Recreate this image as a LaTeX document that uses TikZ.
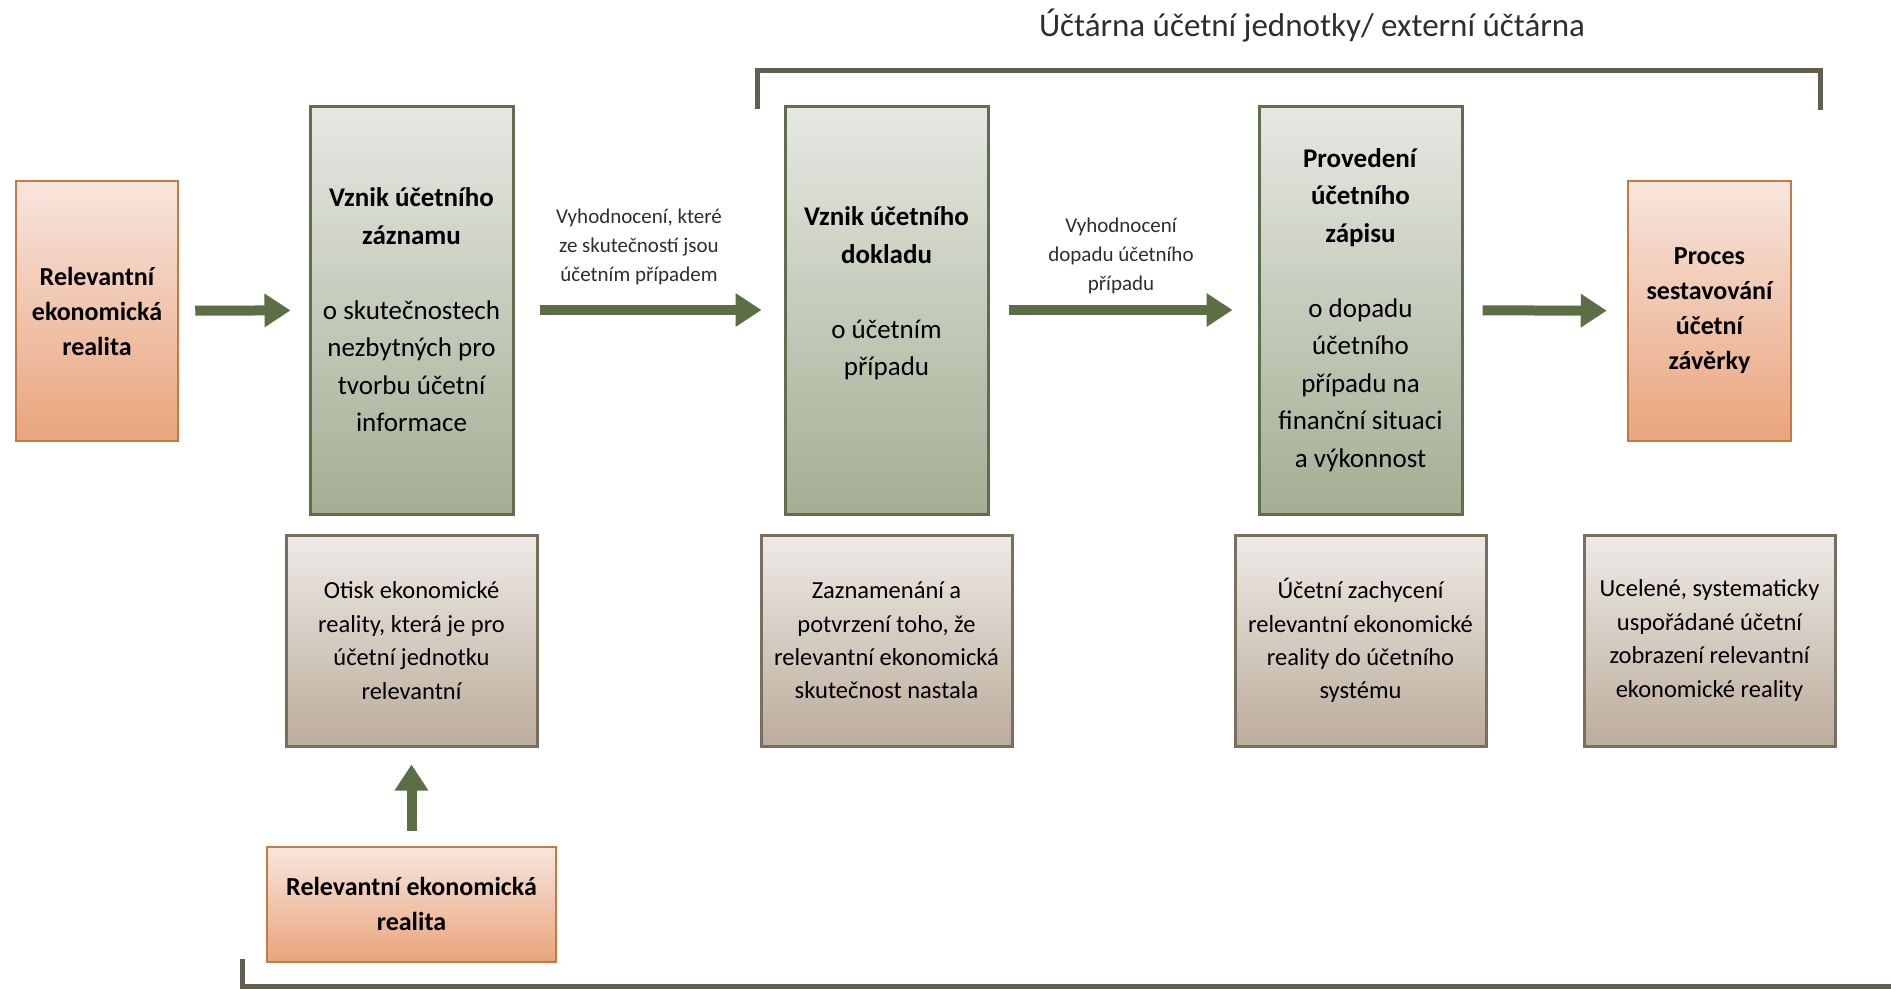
\documentclass[tikz,border=0pt]{standalone}
\usepackage{fontspec}
\setmainfont{Carlito}
\usetikzlibrary{arrows.meta,positioning}

\definecolor{orangeline}{HTML}{C27B47}
\definecolor{orangetop}{HTML}{F7E6DE}
\definecolor{orangebot}{HTML}{E9A47C}
\definecolor{greenline}{HTML}{5E6E4E}
\definecolor{greentop}{HTML}{E6E8E2}
\definecolor{greenbot}{HTML}{A3AE93}
\definecolor{noteline}{HTML}{7A6F5E}
\definecolor{notetop}{HTML}{EDEAE6}
\definecolor{notebot}{HTML}{BCAC9B}
\definecolor{arrowgreen}{HTML}{5C6E43}
\definecolor{bracketgray}{HTML}{625F50}
\definecolor{labelgray}{HTML}{2E2E2E}

\newcommand{\hd}[1]{\textbf{#1}}

\tikzset{
  realbox/.style={draw=orangeline, line width=2.5pt, top color=orangetop, bottom color=orangebot,
    minimum width=162pt, minimum height=260pt, align=center, inner sep=0pt,
    font=\bfseries\fontsize{26}{35}\selectfont},
  stepbox/.style={draw=greenline, line width=3pt, top color=greentop, bottom color=greenbot,
    minimum width=203pt, minimum height=408pt, align=center, inner sep=0pt,
    font=\fontsize{27}{37.5}\selectfont},
  notebox/.style={draw=noteline, line width=3pt, top color=notetop, bottom color=notebot,
    minimum width=251pt, minimum height=211pt, align=center, inner sep=0pt,
    font=\fontsize{24.5}{33.4}\selectfont},
  flow/.style={draw=arrowgreen, line width=10pt, -{Triangle[width=32pt,length=26pt]},
    shorten <=16pt, shorten >=18pt},
  flowlabel/.style={align=center, text=labelgray, font=\fontsize{21}{29}\selectfont},
  bracket/.style={draw=bracketgray, line width=5pt}
}

\begin{document}
\begin{tikzpicture}[x=1pt,y=-1pt]
\path[fill=white] (0,0) rectangle (1891,990);
\useasboundingbox (0,0) rectangle (1891,990);

\node[text=labelgray, font=\fontsize{33}{38}\selectfont] (title) at (1312,26)
  {Účtárna účetní jednotky/ externí účtárna};

\node[realbox] (real) at (97,311) {Relevantní\\ekonomická\\realita};
\node[stepbox] (zaznam) at (411.5,310)
  {\hd{Vznik účetního}\\\hd{záznamu}\\[37.5pt]o skutečnostech\\nezbytných pro\\tvorbu účetní\\informace};
\node[stepbox] (doklad) at (886.5,310)
  {\hd{Vznik účetního}\\\hd{dokladu}\\[37.5pt]o účetním\\případu\\\mbox{}};
\node[stepbox] (zapis) at (1360.5,310)
  {\hd{Provedení}\\\hd{účetního}\\\hd{zápisu}\\[37.5pt]o dopadu\\účetního\\případu na\\finanční situaci\\a výkonnost};
\node[realbox, minimum width=163pt] (zaverka) at (1709.5,311)
  {Proces\\sestavování\\účetní\\závěrky};

\node[notebox, below=18pt of zaznam] (otisk)
  {Otisk ekonomické\\reality, která je pro\\účetní jednotku\\relevantní};
\node[notebox, below=18pt of doklad] (potvrzeni)
  {Zaznamenání a\\potvrzení toho, že\\relevantní ekonomická\\skutečnost nastala};
\node[notebox, below=18pt of zapis] (zachyceni)
  {Účetní zachycení\\relevantní ekonomické\\reality do účetního\\systému};
\node[notebox] (zobrazeni) at (zaverka |- otisk)
  {Ucelené, systematicky\\uspořádané účetní\\zobrazení relevantní\\ekonomické reality};

\node[realbox, minimum width=289pt, minimum height=115pt, below=98pt of otisk] (realdole)
  {Relevantní ekonomická\\realita};

\draw[flow] (real) -- (zaznam);
\draw[flow, shorten <=25pt, shorten >=22pt] (zaznam) -- (doklad);
\draw[flow, shorten <=19pt, shorten >=25pt] (doklad) -- (zapis);
\draw[flow, shorten <=19pt, shorten >=20pt] (zapis) -- (zaverka);
\draw[flow, shorten <=15pt, shorten >=17pt] (realdole) -- (otisk);

\node[flowlabel] (vyhod1) at (639,247)
  {Vyhodnocení, které\\ze skutečností jsou\\účetním případem};
\node[flowlabel] (vyhod2) at (1121,256)
  {Vyhodnocení\\dopadu účetního\\případu};

\draw[bracket] (757,109) -- (757,71) -- (1820,71) -- (1820,110);
\draw[bracket] (242,959) -- (242,986) -- (1891,986);
\end{tikzpicture}
\end{document}
